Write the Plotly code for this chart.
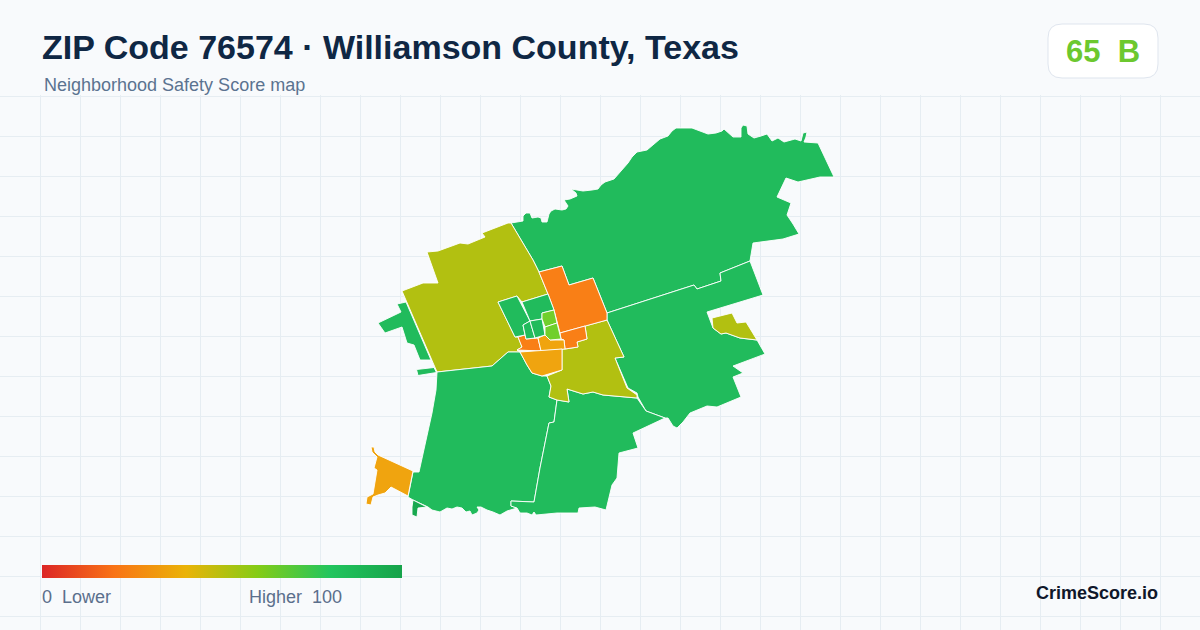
import plotly.graph_objects as go

# outlines, in picture units
north = [(511,223),(517,222),(523,221),(523,216),(526,213),(530,213),(532,218),(538,217),(541,218),(542,222),(547,222),(549,214),(551,211),(555,209),
         (562,210),(566,209),(568,206),(564,200),(570,199),(577,196),(576,193),(571,189),(577,190),(583,191),(592,190),(598,189),(601,185),(605,182),(614,179),(621,171),(628,163),
         (632,157),(637,152),(647,150),(654,144),(660,139),(668,136),(672,131),(676,128),(692,128),(700,131),(708,134),(716,133),(722,131),(724,129),(729,133),(733,137),
         (741,137),(741,128),(743,125),(747,126),(748,134),(754,138),(761,136),(767,134),(772,141),(778,138),(784,142),(795,139),
         (801,141),(803,133),(807,132),(806,137),(804,142),(818,143),(826,160),(834,177),(820,177),(808,180),(798,182),(786,178),(777,197),
         (791,203),(787,215),(793,224),(799,234),(783,239),(767,241),(753,243),(750,261),(720,273),(721,281),(697,289),(694,285),
         (648,300),(607,313),(593,278),(569,285),(562,266),(539,272),(533,260)]
east = [(750,261),(763,295),(707,312),(713,328),(721,334),(726,333),(740,338),(757,340),(765,354),(733,366),
        (743,373),(733,377),(741,397),(717,407),(707,406),(690,413),(683,422),(677,428),(673,426),(668,418),
        (665,418),(646,411),(638,397),(637,393),(628,388),(615,358),(624,357),(607,320),(607,313),(648,300),
        (694,285),(697,289),(721,281),(720,273)]
east_pocket = [(712,318),(732,313),(737,323),(746,322),(757,340),(740,338),(726,333),(721,334),(713,328)]
northwest = [(427,252),(438,251),(449,247),(460,243),(468,244),(477,240),(485,237),(482,233),(495,228),(508,223),(511,223),
             (533,260),(539,272),(548,294),(522,302),(517,296),(498,302),(515,337),(518,337),(522,347),(517,350),
             (520,352),(508,352),(492,366),(437,372),(402,291),(423,283),(438,283)]
west_arm = [(397,304),(406,302),(431,360),(420,360),(414,345),(407,343),(402,327),(385,333),(378,323),(390,317),(401,312)]
west_sliver = [(416.5,369.5),(434,367.5),(436.5,372.5),(418,375.5)]
town_west = [(498,302),(517,296),(530,321),(523,325),(525,335),(515,337)]
town_north = [(522,302),(548,294),(554,310),(542,313),(542,319),(530,321)]
town_mid_a = [(523,325),(530,321),(535,338),(526,339)]
town_mid_b = [(530,321),(542,319),(545,335),(535,338)]
town_lime_a = [(542,313),(554,310),(557,323),(545,327),(542,319)]
town_lime_b = [(545,327),(557,323),(561,339),(550,340),(545,335)]
center = [(539,272),(562,266),(569,285),(593,278),(607,313),(607,320),(560,333),(554,310),(548,294)]
center_se = [(560,333),(585,326),(587,339),(577,342),(578,347),(565,349),(564,340),(561,339)]
center_w = [(518,337),(525,335),(526,339),(538,338),(541,351),(517,350),(522,347)]
center_s = [(538,338),(545,335),(550,340),(564,340),(565,349),(541,351)]
south_town = [(520,352),(562,349),(562,370),(542,376),(532,373),(527,365)]
southeast_olive = [(607,320),(624,357),(615,358),(627,388),(637,395),(637,398),(603,395),(593,392),(583,394),
                   (567,389),(569,402),(557,400),(549,397),(551,386),(547,376),(562,370),(562,349),(565,349),
                   (578,347),(577,342),(587,339),(585,326)]
southwest = [(437,372),(492,366),(508,352),(520,352),(527,365),(532,373),(542,376),(547,376),(551,386),(549,397),
             (557,400),(554,422),(549,423),(540,468),(534,502),(511,501),(511,506),(517,508),(507,511),(500,515),(493,512),(487,510),(481,507),
             (477,507),(479,510),(477,513),(472,515),(470,511),(466,512),(462,508),(457,507),(452,509),(447,508),(440,512),(432,510),(428,507),(413,500),(408,497),
             (413,472),(419,472),(432,413),(436,390)]
southwest_tip = [(413,500),(427,507),(418,508),(417,517),(412,515),(412,507)]
south = [(569,402),(567,389),(583,394),(593,392),(603,395),(637,398),(646,411),(665,418),(633,433),(638,448),
         (619,453),(617,478),(612,485),(606,510),(595,507),(585,508),(579,508),(578,513),(557,513),(536,515),(534,512),(532,515),
         (527,513),(520,513),(517,508),(511,506),(511,501),(534,502),(540,468),(549,423),(554,422),(557,400)]
far_southwest = [(371,447),(374,447),(375,452),(378,455),(413,471),(408,496),(391,487),(385,493),(378,495),(373,497),(371,505),(366,504),
                 (367,497),(373,494),(377,470),(374,468),(377,457),(372,452)]

GREEN = '#21bb5c'
OLIVE = '#b2c011'
ORANGE = '#f97f16'
AMBER = '#f0a40f'
LIME = '#71cf2c'
DARK = '#18a84f'

regions = [
    (north, GREEN), (east, GREEN), (east_pocket, OLIVE), (northwest, OLIVE), (west_arm, GREEN), (west_sliver, GREEN),
    (southwest, GREEN), (southwest_tip, DARK), (south, GREEN), (far_southwest, AMBER),
    (southeast_olive, OLIVE), (center, ORANGE), (center_se, ORANGE), (center_w, ORANGE), (center_s, AMBER),
    (south_town, AMBER), (town_west, GREEN), (town_north, GREEN), (town_mid_a, GREEN), (town_mid_b, GREEN),
    (town_lime_a, LIME), (town_lime_b, LIME),
]

scale_stops = [0, 20, 40, 60, 80, 100]
scale_colors = ['#dc2626', '#f97316', '#eab308', '#84cc16', '#22c55e', '#16a34a']

BG = '#f8fafc'
GRID = '#e6edf2'

fig = go.Figure()
for outline, colour in regions:
    fig.add_trace(go.Scatter(
        x=[p[0] for p in outline] + [outline[0][0]],
        y=[p[1] for p in outline] + [outline[0][1]],
        mode='lines', fill='toself', fillcolor=colour,
        line=dict(color='#ffffff', width=0.9),
        hoverinfo='skip', showlegend=False
    ))

# gradient key
fig.add_trace(go.Scatter(
    x=[None], y=[None], mode='markers', showlegend=False, hoverinfo='skip',
    marker=dict(
        color=[0], cmin=0, cmax=100, showscale=True,
        colorscale=[[s / 100, c] for s, c in zip(scale_stops, scale_colors)],
        colorbar=dict(
            orientation='h', x=42 / 1200, xanchor='left', y=1 - 578 / 630, yanchor='bottom',
            len=360, lenmode='pixels', thickness=13, thicknessmode='pixels',
            xpad=0, ypad=0, outlinewidth=0, borderwidth=0, showticklabels=False, ticks=''
        )
    )
))

def label(text, x, y, size, colour, anchor='left', bold=False):
    fig.add_annotation(
        text='<b>' + text + '</b>' if bold else text,
        x=x / 1200, y=1 - y / 630, xref='paper', yref='paper',
        xanchor=anchor, yanchor='middle', showarrow=False,
        font=dict(family='Liberation Sans', size=size, color=colour)
    )

label('ZIP Code 76574 · Williamson County, Texas', 40, 47, 34, '#0f2744', bold=True)
label('Neighborhood Safety Score map', 42, 85, 18, '#5b7390')
label('65\u00a0\u00a0B', 1103, 51, 31, '#6cc82f', anchor='center', bold=True)
label('0\u00a0\u00a0Lower', 40, 597, 18, '#5b6f8c')
label('Higher\u00a0\u00a0100', 247, 597, 18, '#5b6f8c')
label('CrimeScore.io', 1160, 593, 18, '#0f172a', anchor='right', bold=True)

fig.update_layout(
    width=1200, height=630, margin=dict(l=0, r=0, t=0, b=0),
    paper_bgcolor=BG, plot_bgcolor=BG,
    xaxis=dict(range=[0, 1200], tick0=0.5, dtick=40, showgrid=True, gridcolor=GRID, gridwidth=1,
               zeroline=False, showticklabels=False, ticks='', fixedrange=True),
    yaxis=dict(range=[630, 95], domain=[0, 535 / 630], tick0=96.5, dtick=40, showgrid=True, gridcolor=GRID, gridwidth=1,
               zeroline=False, showticklabels=False, ticks='', fixedrange=True),
    shapes=[dict(
        type='path', xref='x', yref='paper', layer='above',
        path='M 1062 0.9619 L 1144 0.9619 Q 1158 0.9619 1158 0.9397 L 1158 0.8984 Q 1158 0.8762 1144 0.8762 '
             'L 1062 0.8762 Q 1048 0.8762 1048 0.8984 L 1048 0.9397 Q 1048 0.9619 1062 0.9619 Z',
        fillcolor='#ffffff', line=dict(color='#dfe5ee', width=1)
    )]
)

fig.write_html("out.html", config=dict(displayModeBar=False),
               post_script="document.body.style.margin='0';")
